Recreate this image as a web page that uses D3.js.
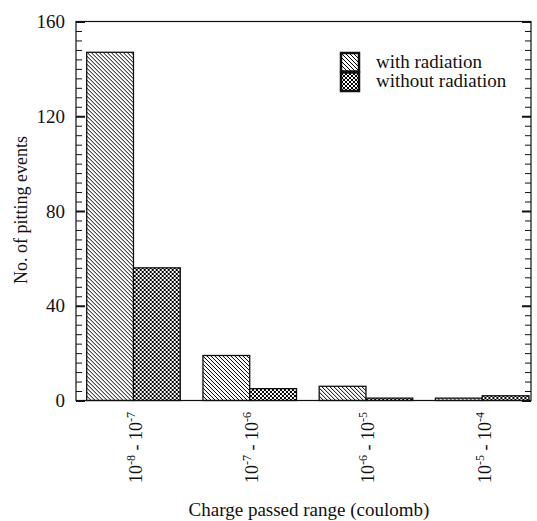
<!DOCTYPE html>
<html>
<head>
<meta charset="utf-8">
<script src="https://cdn.jsdelivr.net/npm/d3@7"></script>
<style>
  html, body { margin: 0; padding: 0; background: #fff; }
  svg { display: block; }
  text { font-family: "Liberation Serif", "Times New Roman", serif; fill: #111; }
</style>
</head>
<body>
<svg id="chart" width="537" height="521"></svg>
<script>
// Charge ranges (exponents of 10, coulomb) for each group
const rangeLow = [-8, -7, -6, -5];
const rangeHigh = [-7, -6, -5, -4];
const categories = ["r1", "r2", "r3", "r4"];
const seriesNames = ["with radiation", "without radiation"];
const withRadiation = [147, 19, 6, 1];
const withoutRadiation = [56, 5, 1, 2];
const yMajorTicks = [0, 40, 80, 120, 160];

const svg = d3.select("#chart");

const frame = { left: 76, right: 531, top: 21.5, bottom: 400.5 };

const y = d3.scaleLinear().domain([0, 160]).range([frame.bottom, frame.top]);
const x0 = d3.scaleBand().domain(categories)
  .range([86.7, 529]).paddingInner(0.195).paddingOuter(0);
const x1 = d3.scaleBand().domain(seriesNames).range([0, x0.bandwidth()]);

// hatch patterns
const defs = svg.append("defs");
const diag = defs.append("pattern").attr("id", "hatchDiag")
  .attr("patternUnits", "userSpaceOnUse").attr("width", 4).attr("height", 4);
diag.append("rect").attr("width", 4).attr("height", 4).attr("fill", "#fff");
diag.append("path").attr("d", "M-1,-1 L5,5 M-1,3 L1,5 M3,-1 L5,1")
  .attr("stroke", "#000").attr("stroke-width", 1).attr("shape-rendering", "crispEdges");

const cross = defs.append("pattern").attr("id", "hatchCross")
  .attr("patternUnits", "userSpaceOnUse").attr("width", 4).attr("height", 4);
cross.append("rect").attr("width", 4).attr("height", 4).attr("fill", "#fff");
cross.append("path").attr("d", "M-1,-1 L5,5 M-1,3 L1,5 M3,-1 L5,1 M-1,5 L5,-1 M-1,1 L1,-1 M3,5 L5,3")
  .attr("stroke", "#000").attr("stroke-width", 1).attr("shape-rendering", "crispEdges");

const fills = { "with radiation": "url(#hatchDiag)", "without radiation": "url(#hatchCross)" };

const rows = categories.map((c, i) => ({
  cat: c,
  values: [
    { key: seriesNames[0], value: withRadiation[i] },
    { key: seriesNames[1], value: withoutRadiation[i] }
  ]
}));

// bars
const groups = svg.append("g").selectAll("g").data(rows).join("g")
  .attr("transform", d => `translate(${x0(d.cat)},0)`);
groups.selectAll("rect").data(d => d.values).join("rect")
  .attr("x", d => x1(d.key))
  .attr("y", d => y(d.value))
  .attr("width", x1.bandwidth())
  .attr("height", d => y(0) - y(d.value))
  .attr("fill", d => fills[d.key])
  .attr("stroke", "#111").attr("stroke-width", 1.3);

// frame
svg.append("rect")
  .attr("x", frame.left).attr("y", frame.top)
  .attr("width", frame.right - frame.left).attr("height", frame.bottom - frame.top)
  .attr("fill", "none").attr("stroke", "#111").attr("stroke-width", 1.2);

// y axis ticks (inward), minor every 4, major every 40
const minorTicks = d3.range(0, 161, 4).filter(v => v % 40 !== 0);
function styleAxis(g) {
  g.select(".domain").remove();
  g.selectAll(".tick line").attr("stroke", "#111");
}
svg.append("g").attr("transform", `translate(${frame.left},0)`)
  .call(d3.axisLeft(y).tickValues(minorTicks).tickSize(-6).tickFormat(""))
  .call(styleAxis).selectAll(".tick line").attr("stroke-width", 1);
svg.append("g").attr("transform", `translate(${frame.right},0)`)
  .call(d3.axisRight(y).tickValues(minorTicks).tickSize(-6).tickFormat(""))
  .call(styleAxis).selectAll(".tick line").attr("stroke-width", 1);
const leftMajor = svg.append("g").attr("transform", `translate(${frame.left},0)`)
  .call(d3.axisLeft(y).tickValues(yMajorTicks).tickSize(-9).tickPadding(11).tickFormat(d3.format("d")))
  .call(styleAxis);
leftMajor.selectAll(".tick line").attr("stroke-width", 2);
leftMajor.selectAll(".tick text")
  .attr("font-family", "Liberation Serif, serif").attr("font-size", 19).attr("fill", "#111");
svg.append("g").attr("transform", `translate(${frame.right},0)`)
  .call(d3.axisRight(y).tickValues(yMajorTicks).tickSize(-9).tickFormat(""))
  .call(styleAxis).selectAll(".tick line").attr("stroke-width", 2);

// x tick labels, rotated
const xLabels = svg.append("g");
rows.forEach((r, i) => {
  const cx = x0(r.cat) + x0.bandwidth() / 2;
  const t = xLabels.append("text")
    .attr("transform", `translate(${cx + 8.5},483) rotate(-90)`)
    .attr("font-size", 18);
  t.append("tspan").text("10");
  t.append("tspan").attr("dy", -7).attr("font-size", 12).text(String(rangeLow[i]));
  t.append("tspan").attr("dy", 7).text(" - 10");
  t.append("tspan").attr("dy", -7).attr("font-size", 12).text(String(rangeHigh[i]));
});

// axis titles
svg.append("text")
  .attr("transform", "translate(27,210) rotate(-90)")
  .attr("text-anchor", "middle").attr("font-size", 18)
  .text("No. of pitting events");
svg.append("text")
  .attr("x", 309).attr("y", 516)
  .attr("text-anchor", "middle").attr("font-size", 19)
  .text("Charge passed range (coulomb)");

// legend
const legend = svg.append("g");
seriesNames.forEach((name, i) => {
  const ly = 53 + i * 19.5;
  legend.append("rect")
    .attr("x", 341).attr("y", ly).attr("width", 18).attr("height", 18.5)
    .attr("fill", fills[name]).attr("stroke", "#111").attr("stroke-width", 2.5);
  legend.append("text")
    .attr("x", 376).attr("y", ly + 14.5)
    .attr("font-size", 19).text(name);
});
</script>
</body>
</html>
